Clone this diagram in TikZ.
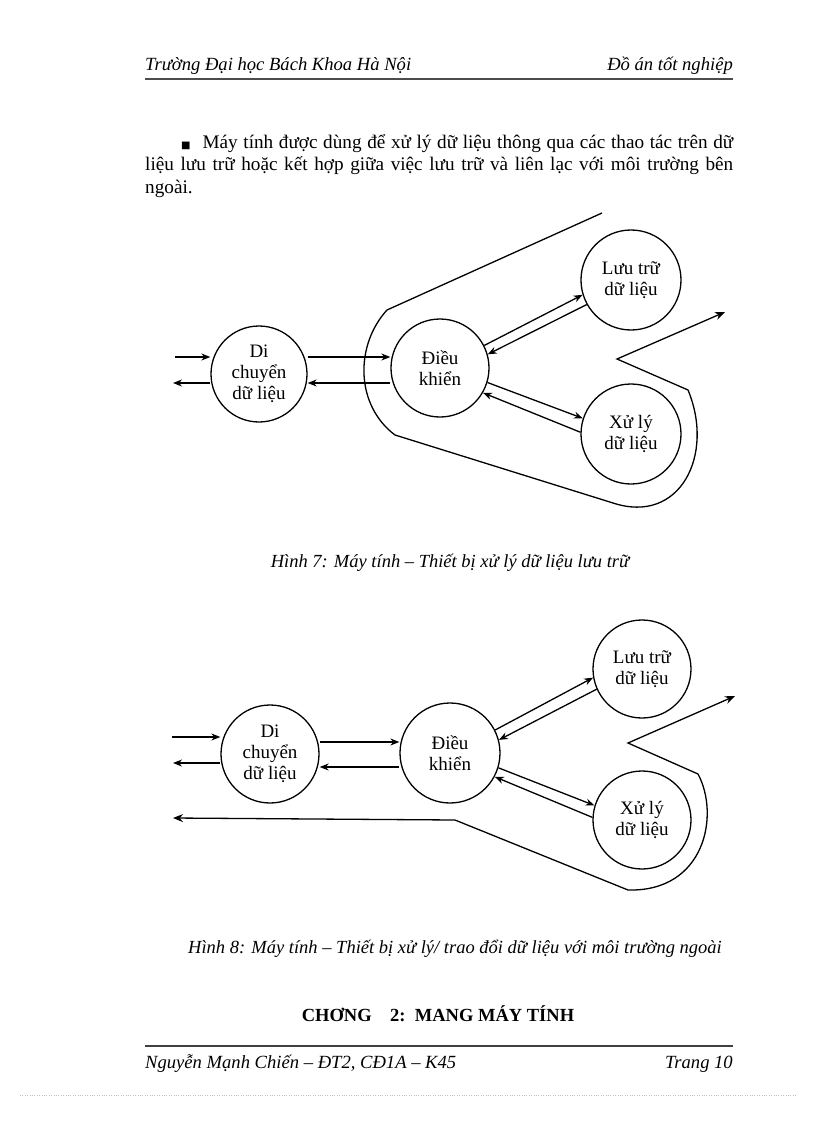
\documentclass[tikz,border=0pt]{standalone}
\usepackage{fontspec}
\setmainfont{Liberation Serif}
\newfontfamily\symfont{DejaVu Sans}
\usetikzlibrary{arrows.meta}
\begin{document}
\begin{tikzpicture}[x=1pt,y=-1pt,
  circ/.style={draw,circle,line width=1.3pt,inner sep=0pt,align=center,font=\fontsize{19}{21}\selectfont},
  arr/.style={line width=1.3pt,-{Stealth[length=9pt,width=7pt]}},
  bnd/.style={line width=1.3pt},
  txt/.style={inner sep=0pt,anchor=base west}]
\useasboundingbox (0,0) rectangle (816,1123);
% header
\node[txt,font=\itshape\fontsize{18.6}{20}\selectfont] (h1) at (145,71) {Trường Đại học Bách Khoa Hà Nội};
\node[inner sep=0pt,anchor=base east,font=\itshape\fontsize{18.6}{20}\selectfont] (h2) at (733,71) {Đồ án tốt nghiệp};
\draw[line width=1.6pt,black!70] (145,79) -- (733,79);
% body
\node[inner sep=0pt,anchor=north west,text width=588pt,align=justify,font=\fontsize{19.2}{22.5}\selectfont] (body) at (145,134)
 {\hspace*{36pt}{\symfont\fontsize{10}{10}\selectfont ■}\hspace{12pt}Máy tính được dùng để xử lý dữ liệu thông qua các thao tác trên dữ liệu lưu trữ hoặc kết hợp giữa việc lưu trữ và liên lạc với môi trường bên ngoài.};
% ---------- diagram 1
\node[circ,minimum size=96pt] (di) at (259,374) {Di\\chuyển\\dữ liệu};
\node[circ,minimum size=98pt] (dk) at (440,368) {Điều\\khiển};
\node[circ,minimum size=100pt] (lt) at (631,280) {Lưu trữ\\dữ liệu};
\node[circ,minimum size=100pt] (xl) at (631,434) {Xử lý\\dữ liệu};
\coordinate (in1) at (175,357);
\coordinate (out1) at (173,383);
\draw[arr] (in1) -- (in1 -| di.west);
\draw[arr] (out1 -| di.west) -- (out1);
\draw[arr] (di.east |- in1) -- (dk.west |- in1);
\draw[arr] (dk.west |- out1) -- (di.east |- out1);
\draw[arr] (dk.27) -- (lt.197);
\draw[arr] (lt.209) -- (dk.16);
\draw[arr] (dk.-17) -- (xl.162);
\draw[arr] (xl.178) -- (dk.-30);
\coordinate (b1) at (602,213);
\coordinate (b2) at (387,310);
\coordinate (b3) at (395,435);
\coordinate (b4) at (613,503);
\coordinate (b5) at (688,390);
\coordinate (b6) at (617,359);
\coordinate (b7) at (725,312);
\draw[bnd,-{Stealth[length=10pt,width=8pt]}] (b1) -- (b2) .. controls (355,345) and (355,405) .. (b3) -- (b4)
  .. controls (680,525) and (715,455) .. (b5) -- (b6) -- (b7);
\node[font=\itshape\fontsize{18.5}{20}\selectfont,inner sep=0pt,anchor=base] (cap1) at (450,567) {Hình 7: Máy tính -- Thiết bị xử lý dữ liệu lưu trữ};
% ---------- diagram 2
\node[circ,minimum size=98pt] (di2) at (270,754) {Di\\chuyển\\dữ liệu};
\node[circ,minimum size=100pt] (dk2) at (450,753) {Điều\\khiển};
\node[circ,minimum size=98pt] (lt2) at (642,669) {Lưu trữ\\dữ liệu};
\node[circ,minimum size=98pt] (xl2) at (642,820) {Xử lý\\dữ liệu};
\coordinate (in2) at (172,737);
\coordinate (out2) at (173,763);
\coordinate (m1) at (0,742);
\coordinate (m2) at (0,767);
\draw[arr] (in2) -- (in2 -| di2.west);
\draw[arr] (out2 -| di2.west) -- (out2);
\draw[arr] (di2.east |- m1) -- (dk2.west |- m1);
\draw[arr] (dk2.west |- m2) -- (di2.east |- m2);
\draw[arr] (dk2.27) -- (lt2.190);
\draw[arr] (lt2.204) -- (dk2.15);
\draw[arr] (dk2.-17) -- (xl2.163);
\draw[arr] (xl2.177) -- (dk2.-28);
\coordinate (c0) at (173,818);
\coordinate (c1) at (455,820);
\coordinate (c2) at (628,890);
\coordinate (c3) at (698,774);
\coordinate (c4) at (628,743);
\coordinate (c5) at (735,696);
\draw[bnd,{Stealth[length=10pt,width=8pt]}-{Stealth[length=10pt,width=8pt]}] (c0) -- (c1) -- (c2)
  .. controls (705,892) and (720,815) .. (c3) -- (c4) -- (c5);
\node[font=\itshape\fontsize{18.5}{20}\selectfont,inner sep=0pt,anchor=base] (cap2) at (455,953) {Hình 8: Máy tính -- Thiết bị xử lý/ trao đổi dữ liệu với môi trường ngoài};
% heading & footer
\node[font=\bfseries\fontsize{18.5}{20}\selectfont,inner sep=0pt,anchor=base] (hd) at (438,1021) {CHƠNG\quad 2:\, MANG MÁY TÍNH};
\draw[line width=1.2pt,black!75] (145,1046) -- (733,1046);
\node[txt,font=\itshape\fontsize{18.6}{20}\selectfont] (f1) at (145,1068) {Nguyễn Mạnh Chiến -- ĐT2, CĐ1A -- K45};
\node[inner sep=0pt,anchor=base east,font=\itshape\fontsize{18.6}{20}\selectfont] (f2) at (733,1068) {Trang 10};
\draw[black!25,dotted] (20,1095) -- (796,1095);
\end{tikzpicture}
\end{document}
